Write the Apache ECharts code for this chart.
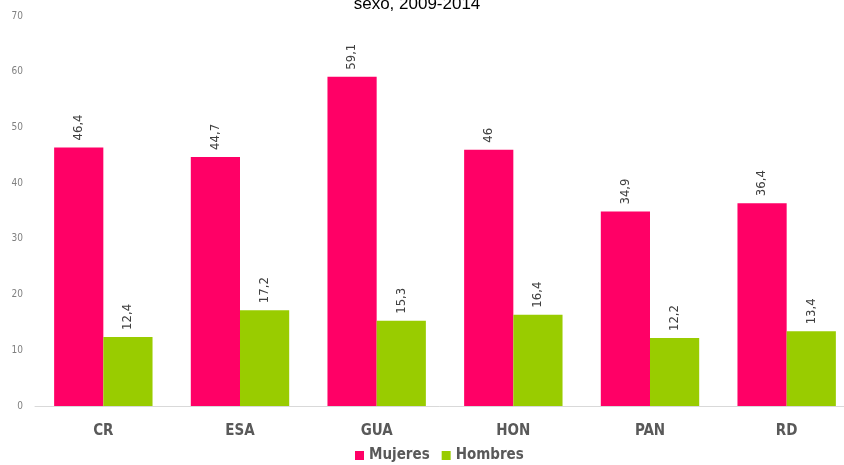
<!DOCTYPE html>
<html>
<head>
<meta charset="utf-8">
<script src="https://cdn.jsdelivr.net/npm/echarts@6/dist/echarts.min.js"></script>
<style>
  html, body { margin: 0; padding: 0; background: #fff; }
  #chart { width: 844px; height: 465px; }
</style>
</head>
<body>
<div id="chart"></div>
<script>
const categories = ['CR', 'ESA', 'GUA', 'HON', 'PAN', 'RD']
const mujeres = [46.4, 44.7, 59.1, 46, 34.9, 36.4]
const hombres = [12.4, 17.2, 15.3, 16.4, 12.2, 13.4]
const yTicks = [0, 10, 20, 30, 40, 50, 60, 70]

const narrow = "'Liberation Sans Narrow', 'DejaVu Sans Condensed', sans-serif"
const fmt = v => String(v.value).replace('.', ',')

const chart = echarts.init(document.getElementById('chart'))
const label = {
  show: true,
  position: 'top',
  rotate: 90,
  align: 'left',
  verticalAlign: 'middle',
  distance: 7,
  color: '#404040',
  fontFamily: narrow,
  fontSize: 13,
  formatter: fmt
}
chart.setOption({
  animation: false,
  title: {
    text: 'sexo, 2009-2014',
    left: 412,
    textAlign: 'center',
    top: -9,
    textStyle: { fontFamily: 'Liberation Sans, Arial', fontSize: 17, fontWeight: 'normal', color: '#000' }
  },
  legend: {
    bottom: -3,
    left: 350,
    itemWidth: 9,
    itemHeight: 9,
    itemGap: 12,
    icon: 'rect',
    textStyle: { fontFamily: narrow, fontSize: 15, fontWeight: 'bold', color: '#595959' },
    data: ['Mujeres', 'Hombres']
  },
  grid: { left: 35, width: 820, top: 16, bottom: 59, outerBoundsMode: 'none' },
  xAxis: {
    type: 'category',
    data: categories,
    axisTick: { show: false },
    axisLine: { lineStyle: { color: '#d9d9d9', width: 1 } },
    axisLabel: { margin: 18, color: '#595959', fontFamily: narrow, fontSize: 15, fontWeight: 'bold' }
  },
  yAxis: {
    type: 'value',
    min: yTicks[0],
    max: yTicks[yTicks.length - 1],
    interval: 10,
    splitLine: { show: false },
    axisLabel: { color: '#808080', fontFamily: narrow, fontSize: 10, margin: 12 }
  },
  series: [
    {
      name: 'Mujeres',
      type: 'bar',
      data: mujeres,
      barGap: '0%',
      barCategoryGap: '28%',
      itemStyle: { color: '#FF0066' },
      label: label
    },
    {
      name: 'Hombres',
      type: 'bar',
      data: hombres,
      itemStyle: { color: '#99CC00' },
      label: label
    }
  ]
})
</script>
</body>
</html>
